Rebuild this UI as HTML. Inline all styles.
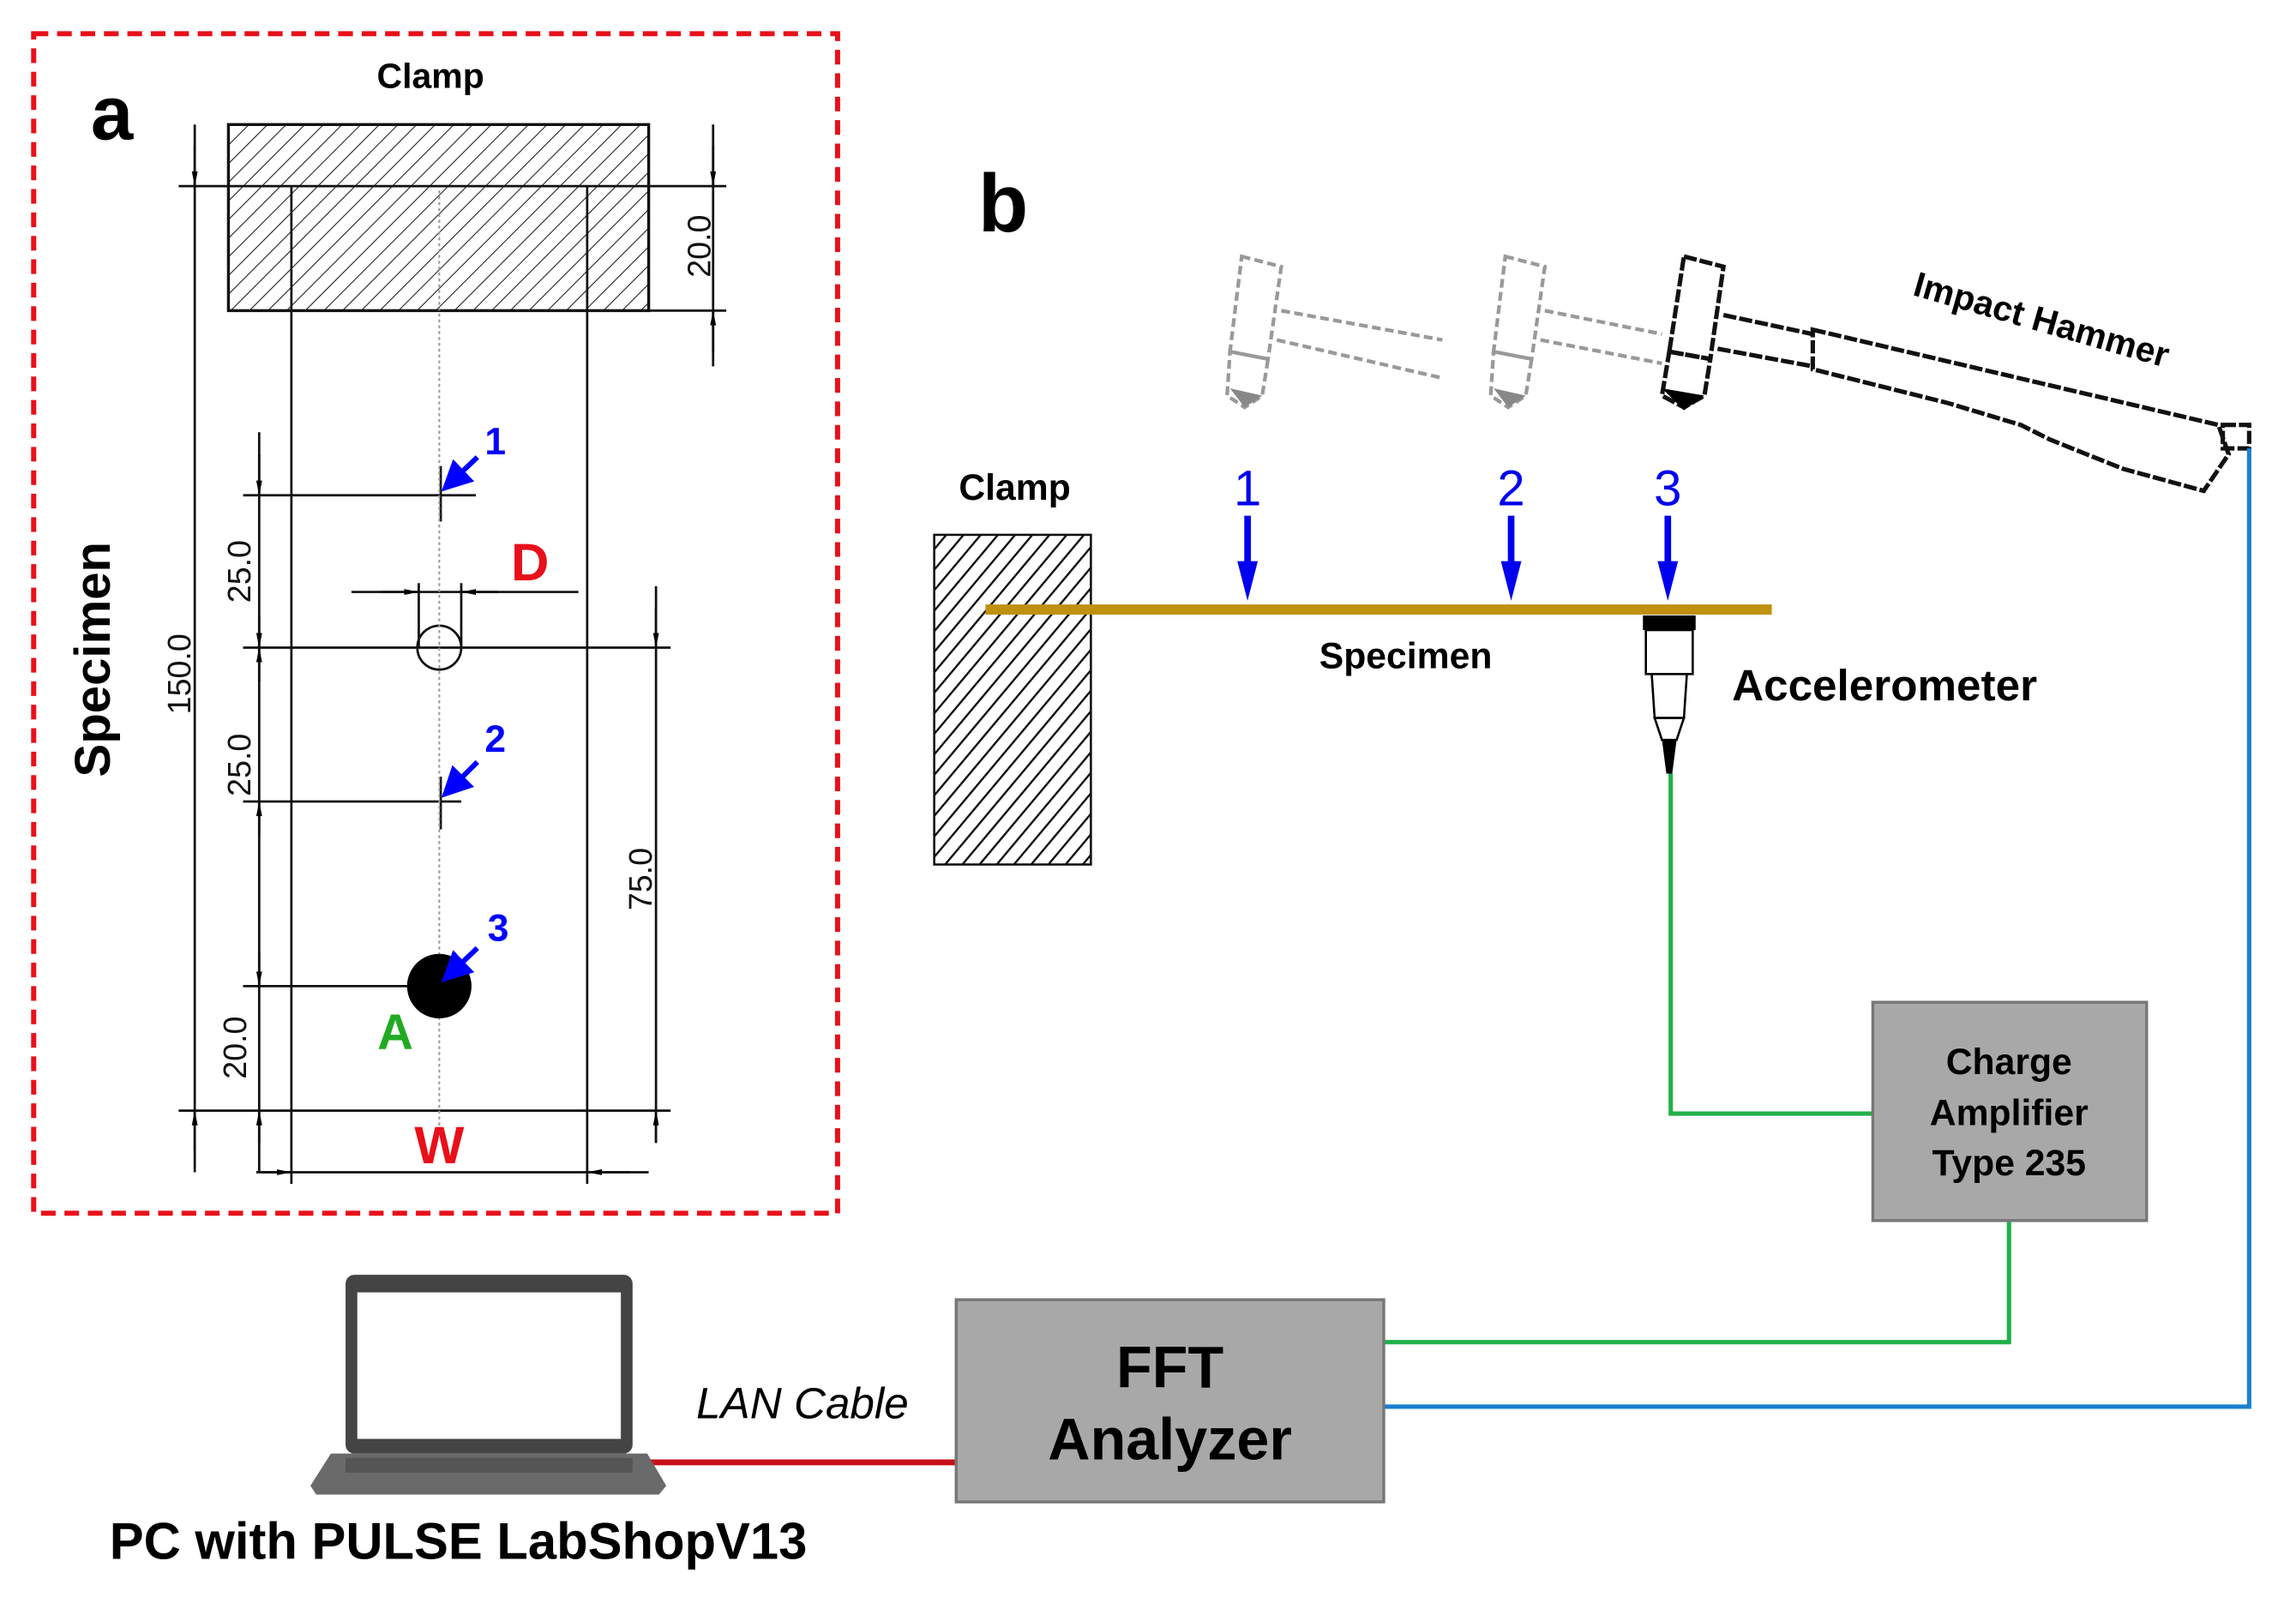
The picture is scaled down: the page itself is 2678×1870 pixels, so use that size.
<!DOCTYPE html>
<html><head><meta charset="utf-8"><style>
html,body{margin:0;padding:0;background:#fff;}
svg{display:block;}
text{font-family:"Liberation Sans",Arial,sans-serif;}
</style></head><body>
<svg width="2678" height="1870" viewBox="0 0 1568 1094" preserveAspectRatio="none" xmlns="http://www.w3.org/2000/svg">
<defs>
<pattern id="h1" width="9" height="9" patternUnits="userSpaceOnUse" patternTransform="rotate(45)">
<line x1="0" y1="0" x2="0" y2="9" stroke="#222" stroke-width="1.3"/></pattern>
<pattern id="h2" width="9" height="9" patternUnits="userSpaceOnUse" patternTransform="rotate(40)">
<line x1="0" y1="0" x2="0" y2="9" stroke="#111" stroke-width="2.8"/></pattern>
<marker id="ab" markerWidth="6" markerHeight="6" refX="5" refY="3" orient="auto"><path d="M0,0 L6,3 L0,6 z" fill="#00f"/></marker>
<marker id="ak" markerWidth="10" markerHeight="6" refX="10" refY="3" orient="auto" markerUnits="userSpaceOnUse"><path d="M0,1 L10,3 L0,5 z" fill="#000"/></marker>
</defs>
<rect width="1568" height="1094" fill="#fff"/>
<!-- panel a -->
<rect x="23" y="23" width="549" height="805" fill="none" stroke="#e8101a" stroke-width="3.5" stroke-dasharray="10,6"/>
<text x="62" y="95" font-size="52" font-weight="bold">a</text>
<text x="294" y="60" font-size="24" font-weight="bold" text-anchor="middle">Clamp</text>
<rect x="156" y="85" width="287" height="127" fill="url(#h1)" stroke="#111" stroke-width="2"/>
<g stroke="#111" stroke-width="1.6" fill="none">
<line x1="122" y1="127" x2="496" y2="127"/>
<line x1="199" y1="127" x2="199" y2="808"/>
<line x1="401" y1="127" x2="401" y2="808"/>
<line x1="122" y1="758" x2="458" y2="758"/>
<line x1="443" y1="212" x2="496" y2="212"/>
<line x1="133" y1="85" x2="133" y2="800"/>
<line x1="487" y1="85" x2="487" y2="250"/>
<line x1="177" y1="295" x2="177" y2="800"/>
<line x1="166" y1="338" x2="325" y2="338"/>
<line x1="301" y1="318" x2="301" y2="356"/>
<line x1="166" y1="442" x2="458" y2="442"/>
<line x1="166" y1="547" x2="315" y2="547"/>
<line x1="301" y1="530" x2="301" y2="566"/>
<line x1="166" y1="673" x2="290" y2="673"/>
<line x1="448" y1="400" x2="448" y2="780"/>
<line x1="175" y1="800" x2="443" y2="800"/>
<line x1="240" y1="404" x2="395" y2="404"/>
<line x1="286" y1="398" x2="286" y2="442"/>
<line x1="315" y1="398" x2="315" y2="442"/>
<circle cx="300" cy="442" r="15"/>
</g>
<g stroke="#111" stroke-width="1.6" marker-end="url(#ak)">
<line x1="133" y1="100" x2="133" y2="127"/>
<line x1="133" y1="785" x2="133" y2="758"/>
<line x1="487" y1="100" x2="487" y2="127"/>
<line x1="487" y1="240" x2="487" y2="212"/>
<line x1="177" y1="310" x2="177" y2="338"/>
<line x1="177" y1="420" x2="177" y2="442"/>
<line x1="177" y1="465" x2="177" y2="442"/>
<line x1="177" y1="570" x2="177" y2="547"/>
<line x1="177" y1="650" x2="177" y2="673"/>
<line x1="177" y1="780" x2="177" y2="758"/>
<line x1="448" y1="415" x2="448" y2="442"/>
<line x1="448" y1="780" x2="448" y2="758"/>
<line x1="260" y1="404" x2="286" y2="404"/>
<line x1="340" y1="404" x2="315" y2="404"/>
<line x1="178" y1="800" x2="199" y2="800"/>
<line x1="430" y1="800" x2="401" y2="800"/>
</g>
<line x1="300" y1="130" x2="300" y2="772" stroke="#999" stroke-width="1.2" stroke-dasharray="2,2"/>
<circle cx="300" cy="673" r="22" fill="#000"/>
<g font-size="22" fill="#111" font-family="Liberation Sans Narrow,Liberation Sans,sans-serif">
<text transform="translate(130,460) rotate(-90)" text-anchor="middle">150.0</text>
<text transform="translate(485,168) rotate(-90)" text-anchor="middle">20.0</text>
<text transform="translate(171,390) rotate(-90)" text-anchor="middle">25.0</text>
<text transform="translate(171,522) rotate(-90)" text-anchor="middle">25.0</text>
<text transform="translate(168,715) rotate(-90)" text-anchor="middle">20.0</text>
<text transform="translate(445,600) rotate(-90)" text-anchor="middle">75.0</text>
</g>
<text transform="translate(75,450) rotate(-90)" font-size="34" font-weight="bold" text-anchor="middle">Specimen</text>
<text x="362" y="396" font-size="36" font-weight="bold" fill="#e8101a" text-anchor="middle">D</text>
<text x="300" y="794" font-size="36" font-weight="bold" fill="#e8101a" text-anchor="middle">W</text>
<text x="270" y="716" font-size="34" font-weight="bold" fill="#22aa22" text-anchor="middle" font-family="Liberation Serif,serif">A</text>
<g stroke="#00f" stroke-width="3.5" marker-end="url(#ab)">
<line x1="326" y1="312" x2="304" y2="333"/>
<line x1="326" y1="520" x2="304" y2="542"/>
<line x1="326" y1="647" x2="304" y2="668"/>
</g>
<g fill="#00f" font-size="26" font-weight="bold">
<text x="331" y="310">1</text><text x="331" y="513">2</text><text x="333" y="642">3</text>
</g>
<!-- panel b -->
<text x="668" y="158" font-size="56" font-weight="bold">b</text>
<text x="693" y="341" font-size="25" font-weight="bold" text-anchor="middle">Clamp</text>
<rect x="638" y="365" width="107" height="225" fill="url(#h2)" stroke="#111" stroke-width="1.5"/>
<line x1="673" y1="416" x2="1210" y2="416" stroke="#c0900e" stroke-width="7"/>
<g stroke="#0000ee" stroke-width="4.5">
<line x1="852" y1="352" x2="852" y2="385"/><line x1="1032" y1="352" x2="1032" y2="385"/><line x1="1139" y1="352" x2="1139" y2="385"/>
</g>
<g fill="#0000ee">
<path d="M845,383 L859,383 L852,410 z"/><path d="M1025,383 L1039,383 L1032,410 z"/><path d="M1132,383 L1146,383 L1139,410 z"/>
</g>
<g fill="#0000ee" font-size="34" text-anchor="middle">
<text x="852" y="345">1</text><text x="1032" y="345">2</text><text x="1139" y="345">3</text>
</g>
<text x="960" y="456" font-size="25" font-weight="bold" text-anchor="middle">Specimen</text>
<!-- accelerometer -->
<rect x="1122" y="420" width="36" height="10" fill="#000"/>
<rect x="1124" y="430" width="32" height="30" fill="#fff" stroke="#000" stroke-width="1.5"/>
<path d="M1128,460 L1152,460 L1150,490 L1130,490 z" fill="#fff" stroke="#000" stroke-width="1.5"/>
<path d="M1130,490 L1150,490 L1145,505 L1135,505 z" fill="#fff" stroke="#000" stroke-width="1.5"/>
<path d="M1135,505 L1145,505 L1142,528 L1138,528 z" fill="#000"/>
<text x="1287" y="478" font-size="30" font-weight="bold" text-anchor="middle">Accelerometer</text>
<!-- hammers -->
<g fill="none" stroke="#999" stroke-width="2.5" stroke-dasharray="6,3">
<path d="M848,175 L875,182 L866,245 L840,240 z"/>
<path d="M840,240 L866,245 L862,270 L850,278 L838,270 z"/>
<path d="M875,212 L985,232 M872,232 L985,258"/>
<path d="M1028,175 L1055,182 L1046,245 L1020,240 z"/>
<path d="M1020,240 L1046,245 L1042,270 L1030,278 L1018,270 z"/>
<path d="M1055,212 L1135,228 M1052,232 L1135,248"/>
</g>
<path d="M840,265 L862,270 L850,278 z" fill="#888"/>
<path d="M1020,265 L1042,270 L1030,278 z" fill="#888"/>
<g fill="none" stroke="#111" stroke-width="3" stroke-dasharray="9,2">
<path d="M1150,175 L1177,182 L1168,245 L1140,240 z"/>
<path d="M1140,240 L1168,245 L1164,270 L1150,278 L1135,270 z"/>
<path d="M1177,215 L1238,228 M1173,238 L1238,250"/>
<path d="M1238,225 L1515,290 L1522,310 L1505,335 L1450,320 L1400,300 L1380,290 L1330,275 L1238,252 z"/>
<rect x="1518" y="290" width="18" height="16"/>
</g>
<path d="M1135,265 L1164,270 L1150,280 z" fill="#000"/>
<text transform="translate(1392,226) rotate(16)" font-size="24" font-weight="bold" text-anchor="middle">Impact Hammer</text>
<!-- cables -->
<polyline points="1141,528 1141,760 1279,760" fill="none" stroke="#22b04a" stroke-width="3"/>
<polyline points="1372,833 1372,916 945,916" fill="none" stroke="#22b04a" stroke-width="3"/>
<polyline points="1536,306 1536,960 945,960" fill="none" stroke="#1a7fd0" stroke-width="3"/>
<line x1="437" y1="998" x2="653" y2="998" stroke="#c8101a" stroke-width="4"/>
<!-- boxes -->
<rect x="1279" y="684" width="187" height="149" fill="#a8a8a8" stroke="#777" stroke-width="2"/>
<g font-size="25" font-weight="bold" text-anchor="middle">
<text x="1372" y="733">Charge</text><text x="1372" y="768">Amplifier</text><text x="1372" y="802">Type 235</text>
</g>
<rect x="653" y="887" width="292" height="138" fill="#a8a8a8" stroke="#777" stroke-width="2"/>
<text x="799" y="947" font-size="40" font-weight="bold" text-anchor="middle">FFT</text>
<text x="799" y="996" font-size="40" font-weight="bold" text-anchor="middle">Analyzer</text>
<text x="548" y="968" font-size="30" font-style="italic" text-anchor="middle">LAN Cable</text>
<!-- laptop -->
<rect x="236" y="870" width="196" height="122" rx="6" fill="#444"/>
<rect x="244" y="882" width="180" height="100" fill="#fff"/>
<path d="M226,992 L442,992 L455,1014 L450,1020 L216,1020 L212,1014 z" fill="#6a6a6a"/>
<rect x="236" y="995" width="196" height="10" fill="#555"/>
<text x="313" y="1064" font-size="35" font-weight="bold" text-anchor="middle">PC with PULSE LabShopV13</text>
</svg>
</body></html>
